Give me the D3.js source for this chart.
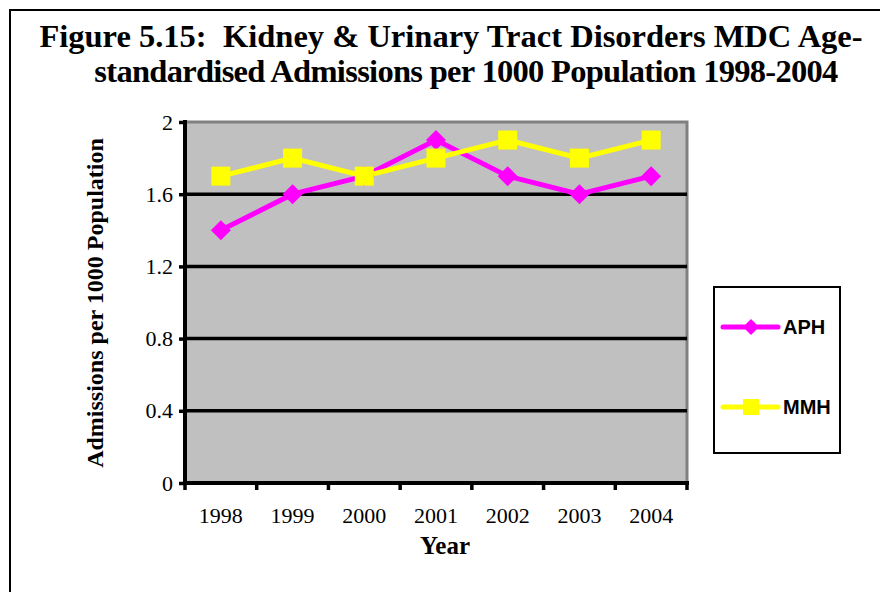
<!DOCTYPE html>
<html><head><meta charset="utf-8">
<script src="https://cdn.jsdelivr.net/npm/d3@7"></script>
<style>body{margin:0;background:#fff}svg{display:block}text{white-space:pre}</style>
</head><body>
<svg id="c" width="880" height="592"></svg>
<script>
const years = ["1998","1999","2000","2001","2002","2003","2004"];
const aph = [1.4, 1.6, 1.7, 1.9, 1.7, 1.6, 1.7];
const mmh = [1.7, 1.8, 1.7, 1.8, 1.9, 1.8, 1.9];
const yTicks = [0, 0.4, 0.8, 1.2, 1.6, 2];
const yTickLabels = ["0","0.4","0.8","1.2","1.6","2"];
const seriesNames = ["APH","MMH"];
const seriesColors = ["#ff00ff","#ffff00"];

const svg = d3.select("#c");
const serif = "'Liberation Serif','Times New Roman',serif";
const sans = "'Liberation Sans',Arial,sans-serif";

// outer frame (top and left)
svg.append("path").attr("d","M10,600 L10,10 L890,10").attr("fill","none").attr("stroke","#000").attr("stroke-width",2);

// title
svg.append("text").attr("x",451).attr("y",47).attr("text-anchor","middle").attr("font-family",serif)
  .attr("font-weight","bold").attr("font-size",32.5)
  .text("Figure 5.15:  Kidney & Urinary Tract Disorders MDC Age-");
svg.append("text").attr("x",466).attr("y",82).attr("text-anchor","middle").attr("font-family",serif)
  .attr("font-weight","bold").attr("font-size",32.5).attr("letter-spacing",-0.7)
  .text("standardised Admissions per 1000 Population 1998-2004");

const L = 185, R = 687, T = 122, B = 483;
const x = d3.scaleBand().domain(years).range([L, R]);
const y = d3.scaleLinear().domain([0, 2]).range([B, T]);

// plot background
svg.append("rect").attr("x",L).attr("y",T).attr("width",R-L).attr("height",B-T).attr("fill","#c0c0c0");
// gray top & right border
svg.append("path").attr("d",`M${L},${T} L${R},${T} L${R},${B}`).attr("fill","none").attr("stroke","#808080").attr("stroke-width",3);

// gridlines
svg.append("g").selectAll("line").data(yTicks.filter(d=>d>0 && d<2)).join("line")
  .attr("x1",L).attr("x2",R).attr("y1",d=>y(d)).attr("y2",d=>y(d))
  .attr("stroke","#000").attr("stroke-width",3.5);

// y axis
const yAxis = d3.axisLeft(y).tickValues(yTicks).tickFormat((d,i)=>yTickLabels[i]).tickSize(6).tickPadding(6);
const gy = svg.append("g").attr("transform",`translate(${L},0)`).call(yAxis);
gy.select(".domain").attr("stroke","#000").attr("stroke-width",4).attr("d",`M0,${T-2}V${B}`);
gy.selectAll(".tick line").attr("stroke","#000").attr("stroke-width",3.5);
gy.selectAll(".tick text").attr("font-family",serif).attr("font-size",22).attr("fill","#000");

// x axis
const gx = svg.append("g").attr("transform",`translate(0,${B})`);
gx.append("line").attr("x1",L-2).attr("x2",R+2).attr("stroke","#000").attr("stroke-width",4);
const bounds = years.map(d=>x(d)).concat([x(years[years.length-1])+x.bandwidth()]);
gx.selectAll("line.tk").data(bounds).join("line").attr("class","tk")
  .attr("x1",d=>d).attr("x2",d=>d).attr("y1",0).attr("y2",7).attr("stroke","#000").attr("stroke-width",3.5);
gx.selectAll("text").data(years).join("text")
  .attr("x",d=>x(d)+x.bandwidth()/2).attr("y",40).attr("text-anchor","middle")
  .attr("font-family",serif).attr("font-size",22).text(d=>d);

// axis titles
svg.append("text").attr("x",445).attr("y",554).attr("text-anchor","middle")
  .attr("font-family",serif).attr("font-weight","bold").attr("font-size",25).text("Year");
svg.append("text").attr("transform","translate(103,303) rotate(-90)").attr("text-anchor","middle")
  .attr("font-family",serif).attr("font-weight","bold").attr("font-size",24).text("Admissions per 1000 Population");

// lines
const line = d3.line().x((d,i)=>x(years[i])+x.bandwidth()/2).y(d=>y(d));
const allSeries = [aph, mmh];
allSeries.forEach((s,k)=>{
  svg.append("path").datum(s).attr("d",line).attr("fill","none")
    .attr("stroke",seriesColors[k]).attr("stroke-width",5).attr("stroke-linejoin","miter");
});
function marker(g, k, cx, cy, sz){
  if(k===0){
    g.append("path").attr("d",`M${cx},${cy-sz} L${cx+sz},${cy} L${cx},${cy+sz} L${cx-sz},${cy} Z`).attr("fill",seriesColors[k]);
  } else {
    g.append("rect").attr("x",cx-sz).attr("y",cy-sz).attr("width",2*sz).attr("height",2*sz).attr("fill",seriesColors[k]);
  }
}
allSeries.forEach((s,k)=>{
  const g = svg.append("g");
  s.forEach((v,i)=> marker(g,k,x(years[i])+x.bandwidth()/2,y(v), k===0?10:9.5));
});

// legend
svg.append("rect").attr("x",714).attr("y",287).attr("width",126).attr("height",166)
  .attr("fill","#fff").attr("stroke","#000").attr("stroke-width",2);
const legY = [327, 407];
seriesNames.forEach((n,k)=>{
  const g = svg.append("g");
  g.append("line").attr("x1",723).attr("x2",778).attr("y1",legY[k]).attr("y2",legY[k])
    .attr("stroke",seriesColors[k]).attr("stroke-width",5).attr("stroke-linecap","round");
  marker(g,k,751,legY[k], 8);
  g.append("text").attr("x",783).attr("y",legY[k]+7).attr("font-family",sans).attr("font-weight","bold")
    .attr("font-size",20).text(n);
});
</script>
</body></html>
